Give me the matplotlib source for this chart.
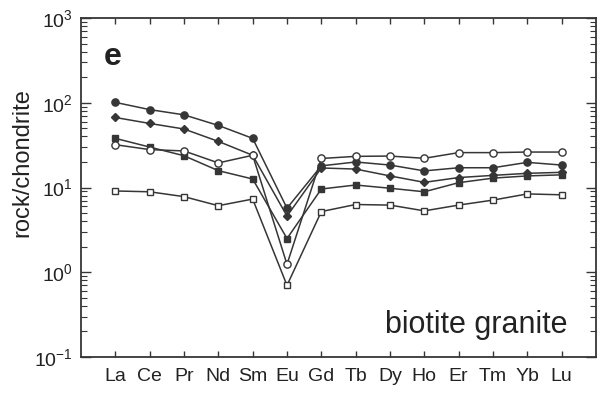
import matplotlib
matplotlib.use("Agg")
import matplotlib.pyplot as plt
from matplotlib.ticker import LogLocator, LogFormatterSciNotation, FixedLocator, NullFormatter

plt.rcParams["font.family"] = ["Liberation Sans", "DejaVu Sans"]
plt.rcParams["mathtext.fontset"] = "custom"
plt.rcParams["mathtext.rm"] = "Liberation Sans"
plt.rcParams["mathtext.default"] = "regular"

elements = ["La", "Ce", "Pr", "Nd", "Sm", "Eu", "Gd", "Tb", "Dy", "Ho", "Er", "Tm", "Yb", "Lu"]

# chondrite-normalised REE abundances for five biotite granite samples
sample_filled_circle = [101, 83, 72, 54, 38, 5.7, 18, 20, 18.4, 15.7, 17.1, 17.1, 19.8, 18.4]
sample_filled_diamond = [67, 57, 49, 35, 24, 4.6, 17, 16.5, 13.7, 11.5, 13.1, 13.9, 14.7, 15.1]
sample_filled_square = [38, 30, 23.7, 15.8, 12.6, 2.5, 9.6, 10.7, 9.8, 8.9, 11.4, 12.9, 13.7, 14.1]
sample_open_circle = [32, 28, 27, 19.5, 24, 1.24, 22, 23.3, 23.5, 22.1, 25.8, 25.8, 26.2, 26.2]
sample_open_square = [9.1, 8.9, 7.8, 6.1, 7.3, 0.7, 5.2, 6.3, 6.2, 5.3, 6.2, 7.1, 8.4, 8.2]

panel_letter = "e"
panel_title = "biotite granite"

ink = "#363636"

fig = plt.figure(figsize=(6.06, 3.95), dpi=100)
ax = fig.add_axes([81 / 606, 1 - 357 / 395, 515 / 606, 339 / 395])

x = list(range(len(elements)))
series = [
    (sample_filled_circle, "o", ink, 5.2),
    (sample_filled_diamond, "D", ink, 4.4),
    (sample_filled_square, "s", ink, 4.8),
    (sample_open_circle, "o", "white", 5.2),
    (sample_open_square, "s", "white", 4.8),
]
for vals, mk, face, ms in series:
    ax.plot(x, vals, color=ink, lw=1.1, marker=mk, markersize=ms,
            markerfacecolor=face, markeredgecolor=ink, markeredgewidth=1.0, zorder=3)

ax.set_yscale("log")
ax.set_ylim(0.1, 1000)
ax.set_xlim(-1, 14)

ax.yaxis.set_major_locator(LogLocator(base=10, numticks=10))
ax.yaxis.set_minor_locator(LogLocator(base=10, subs=range(2, 10), numticks=20))
ax.yaxis.set_major_formatter(LogFormatterSciNotation())
ax.yaxis.set_minor_formatter(NullFormatter())

ax.xaxis.set_major_locator(FixedLocator(x))
ax.set_xticklabels(elements)

ax.tick_params(axis="both", which="both", direction="in", top=True, right=True, colors=ink)
ax.tick_params(axis="y", which="major", length=7, width=1.0, labelsize=14, pad=6)
ax.tick_params(axis="y", which="minor", length=4, width=0.8)
ax.tick_params(axis="x", which="major", length=4, width=1.0, labelsize=14, pad=8)
for lbl in ax.get_xticklabels() + ax.get_yticklabels():
    lbl.set_color("#222222")

for sp in ax.spines.values():
    sp.set_linewidth(1.3)
    sp.set_color(ink)

ax.set_ylabel("rock/chondrite", fontsize=17, color="#222222")
ax.yaxis.set_label_coords(-0.092, 0.575)

ax.text(0.045, 0.86, panel_letter, transform=ax.transAxes, fontsize=23,
        fontweight="bold", color="#222222", ha="left", va="baseline")
ax.text(0.944, 0.072, panel_title, transform=ax.transAxes, fontsize=22,
        color="#222222", ha="right", va="baseline")

fig.savefig("out.png", dpi=100)
